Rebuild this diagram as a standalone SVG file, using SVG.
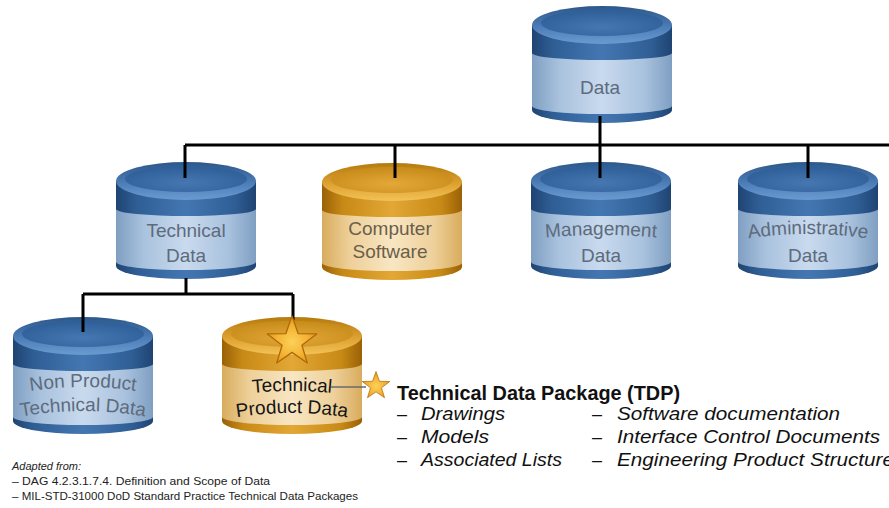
<svg xmlns="http://www.w3.org/2000/svg" width="889" height="508" viewBox="0 0 889 508">
<style>
.lbl{font-family:"Liberation Sans",Arial,sans-serif;font-size:19px;text-anchor:middle}
.lb{fill:#5d6b7c}
.lg{fill:#6b5f4a}
.ld{fill:#151515}
.conn{stroke:#000;stroke-width:3;fill:none}
.title{font-family:"Liberation Sans",Arial,sans-serif;font-size:20px;font-weight:bold;fill:#111}
.item{font-family:"Liberation Sans",Arial,sans-serif;font-size:18px;font-style:italic;fill:#111}
.dash{font-family:"Liberation Sans",Arial,sans-serif;font-size:18px;fill:#111}
.note{font-family:"Liberation Sans",Arial,sans-serif;font-size:11px;fill:#222}
</style>
<defs>
<linearGradient id="blueSide" x1="0" y1="0" x2="1" y2="0">
<stop offset="0" stop-color="#1f4472"/><stop offset="0.15" stop-color="#2f5e95"/><stop offset="0.5" stop-color="#4477b2"/><stop offset="0.85" stop-color="#2f5e95"/><stop offset="1" stop-color="#1f4472"/>
</linearGradient>
<linearGradient id="blueBand" x1="0" y1="0" x2="1" y2="0">
<stop offset="0" stop-color="#7f9fc2"/><stop offset="0.2" stop-color="#a9c2de"/><stop offset="0.5" stop-color="#c9daee"/><stop offset="0.8" stop-color="#a9c2de"/><stop offset="1" stop-color="#7f9fc2"/>
</linearGradient>
<linearGradient id="blueTop" x1="0" y1="0" x2="0" y2="1">
<stop offset="0" stop-color="#2c578a"/><stop offset="0.6" stop-color="#4f80ba"/><stop offset="1" stop-color="#6a9bd0"/>
</linearGradient>
<radialGradient id="blueTopInner" cx="0.5" cy="0.65" r="0.6">
<stop offset="0" stop-color="#4677b1"/><stop offset="1" stop-color="#30609a"/>
</radialGradient>
<linearGradient id="goldSide" x1="0" y1="0" x2="1" y2="0">
<stop offset="0" stop-color="#9a6106"/><stop offset="0.15" stop-color="#c88a16"/><stop offset="0.5" stop-color="#e2a736"/><stop offset="0.85" stop-color="#c88a16"/><stop offset="1" stop-color="#9a6106"/>
</linearGradient>
<linearGradient id="goldBand" x1="0" y1="0" x2="1" y2="0">
<stop offset="0" stop-color="#d8ac5e"/><stop offset="0.2" stop-color="#eed09a"/><stop offset="0.5" stop-color="#f8e6c2"/><stop offset="0.8" stop-color="#eed09a"/><stop offset="1" stop-color="#d8ac5e"/>
</linearGradient>
<linearGradient id="goldTop" x1="0" y1="0" x2="0" y2="1">
<stop offset="0" stop-color="#b57a0c"/><stop offset="0.6" stop-color="#e0a534"/><stop offset="1" stop-color="#f3c257"/>
</linearGradient>
<radialGradient id="goldTopInner" cx="0.5" cy="0.65" r="0.6">
<stop offset="0" stop-color="#e3a838"/><stop offset="1" stop-color="#c98d1c"/>
</radialGradient>
<radialGradient id="starFill" cx="0.5" cy="0.55" r="0.55">
<stop offset="0" stop-color="#fcd15a"/><stop offset="0.6" stop-color="#f3b232"/><stop offset="1" stop-color="#e0931a"/>
</radialGradient>
<g id="cylBlue">
<path d="M-70,19 L-70,104 A70,13 0 0 0 70,104 L70,19 Z" fill="url(#blueSide)"/>
<path d="M-70,47 A70,7 0 0 0 70,47 L70,100 A70,8 0 0 1 -70,100 Z" fill="url(#blueBand)"/>
<ellipse cx="0" cy="19" rx="70" ry="19" fill="url(#blueTop)"/>
<ellipse cx="0" cy="17" rx="61" ry="13" fill="url(#blueTopInner)"/>
</g>
<g id="cylGold">
<path d="M-70,19 L-70,104 A70,13 0 0 0 70,104 L70,19 Z" fill="url(#goldSide)"/>
<path d="M-70,47 A70,7 0 0 0 70,47 L70,100 A70,8 0 0 1 -70,100 Z" fill="url(#goldBand)"/>
<ellipse cx="0" cy="19" rx="70" ry="19" fill="url(#goldTop)"/>
<ellipse cx="0" cy="17" rx="61" ry="13" fill="url(#goldTopInner)"/>
</g>
<polygon id="star" points="0,-10 2.351,-3.236 9.511,-3.09 3.804,1.236 5.878,8.09 0,4 -5.878,8.09 -3.804,1.236 -9.511,-3.09 -2.351,-3.236" fill="url(#starFill)" stroke="#b06a08" stroke-width="0.5" stroke-linejoin="round"/>
<path id="pMgmt" d="M531,239 Q601,231 671,239"/>
<path id="pAdmin" d="M738,240 Q808,228 878,240"/>
<path id="pNP1" d="M13,394 Q83,380 153,394"/>
<path id="pNP2" d="M13,418 Q83,404 153,418"/>
<path id="pTP1" d="M222,397 Q292,385 362,397"/>
<path id="pTP2" d="M222,420 Q292,406 362,420"/>
</defs>

<g id="node-data">
<use href="#cylBlue" transform="translate(602,6)"/>
<text class="lbl lb" x="600" y="94">Data</text>
</g>
<g id="node-technical-data">
<use href="#cylBlue" transform="translate(186,162)"/>
<text class="lbl lb" x="186" y="237">Technical</text>
<text class="lbl lb" x="186" y="262">Data</text>
</g>
<g id="node-computer-software">
<use href="#cylGold" transform="translate(392,163)"/>
<text class="lbl lg" x="390" y="235">Computer</text>
<text class="lbl lg" x="390" y="258">Software</text>
</g>
<g id="node-management-data">
<use href="#cylBlue" transform="translate(601,162)"/>
<text class="lbl lb"><textPath href="#pMgmt" startOffset="50%">Management</textPath></text>
<text class="lbl lb" x="601" y="262">Data</text>
</g>
<g id="node-administrative-data">
<use href="#cylBlue" transform="translate(808,162)"/>
<text class="lbl lb"><textPath href="#pAdmin" startOffset="50%">Administrative</textPath></text>
<text class="lbl lb" x="808" y="262">Data</text>
</g>
<g id="node-non-product">
<use href="#cylBlue" transform="translate(83,317)"/>
<text class="lbl lb"><textPath href="#pNP1" startOffset="50%">Non Product</textPath></text>
<text class="lbl lb"><textPath href="#pNP2" startOffset="50%">Technical Data</textPath></text>
</g>
<g id="node-technical-product">
<use href="#cylGold" transform="translate(292,317)"/>
<text class="lbl ld"><textPath href="#pTP1" startOffset="50%">Technical</textPath></text>
<text class="lbl ld"><textPath href="#pTP2" startOffset="50%">Product Data</textPath></text>
</g>

<g id="connectors">
<path class="conn" d="M600,116 V145 M185,145 H889 M185,145 V178 M395,145 V178 M600,145 V178 M808,145 V178"/>
<path class="conn" d="M186,278 V294 M83,294 H293 M83,294 V332 M293,294 V320"/>
<path d="M331,387 H366" stroke="#6a6a6a" stroke-width="1.6"/>
</g>

<g id="stars">
<use href="#star" transform="translate(292,342) scale(2.6)"/>
<use href="#star" transform="translate(376,386) scale(1.45)"/>
</g>

<g id="tdp-list">
<text class="title" x="397" y="400" textLength="283" lengthAdjust="spacingAndGlyphs">Technical Data Package (TDP)</text>
<text class="dash" x="397" y="420">–</text>
<text class="dash" x="397" y="443">–</text>
<text class="dash" x="397" y="466">–</text>
<text class="item" x="421" y="420" textLength="84" lengthAdjust="spacingAndGlyphs">Drawings</text>
<text class="item" x="421" y="443" textLength="68" lengthAdjust="spacingAndGlyphs">Models</text>
<text class="item" x="421" y="466" textLength="141" lengthAdjust="spacingAndGlyphs">Associated Lists</text>
<text class="dash" x="592" y="420">–</text>
<text class="dash" x="592" y="443">–</text>
<text class="dash" x="592" y="466">–</text>
<text class="item" x="617" y="420" textLength="223" lengthAdjust="spacingAndGlyphs">Software documentation</text>
<text class="item" x="617" y="443" textLength="263" lengthAdjust="spacingAndGlyphs">Interface Control Documents</text>
<text class="item" x="617" y="466" textLength="277" lengthAdjust="spacingAndGlyphs">Engineering Product Structure</text>
</g>

<g id="footnote">
<text class="note" x="12" y="470" font-style="italic">Adapted from:</text>
<text class="note" x="12" y="485" textLength="258" lengthAdjust="spacingAndGlyphs">– DAG 4.2.3.1.7.4. Definition and Scope of Data</text>
<text class="note" x="12" y="500" textLength="346" lengthAdjust="spacingAndGlyphs">– MIL-STD-31000 DoD Standard Practice Technical Data Packages</text>
</g>
</svg>
